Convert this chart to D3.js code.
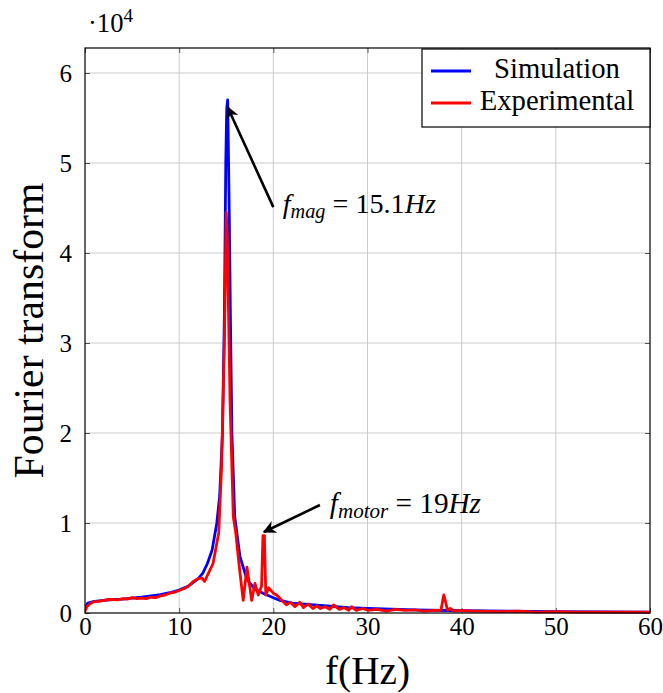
<!DOCTYPE html>
<html><head><meta charset="utf-8">
<script src="https://cdn.jsdelivr.net/npm/d3@7"></script>
<style>
body{margin:0;background:#fff}
svg text{font-family:"Liberation Serif","Times New Roman",serif !important;fill:#000}
</style>
</head><body>
<svg id="c" width="663" height="693"></svg>
<script>
// ---- data (values in units of 10^4) ----
const simFreq = [0,0.3,1,2,3,4,5,6,7,8,9,10,11,12,12.5,13,13.5,14,14.3,14.6,14.8,14.95,15.05,15.15,15.3,15.45,15.6,15.9,16.45,17.2,18,18.9,20,20.7,22,25,28,30,35,40,45,50,55,60];
const simVal  = [0.06,0.11,0.13,0.14,0.15,0.155,0.165,0.175,0.19,0.205,0.225,0.255,0.3,0.38,0.44,0.55,0.7,1.0,1.3,2.0,3.3,5.0,5.6,5.7,4.6,3.2,2.0,1.07,0.63,0.37,0.27,0.22,0.17,0.14,0.11,0.085,0.06,0.05,0.035,0.025,0.02,0.015,0.012,0.01];

const expFreq = [0,0.2,0.5,0.9,1.5,2,2.5,3,3.5,4,4.5,5,5.5,6,6.5,7,7.5,8,8.5,9,9.5,10,10.5,11,11.5,12,12.4,12.7,13.1,13.6,14.2,14.5,14.8,15.0,15.1,15.25,15.4,15.75,16.0,16.4,16.8,17.2,17.7,18.05,18.4,18.75,18.9,19.05,19.2,19.5,20,20.35,21,21.4,21.8,22.3,22.8,23.2,23.7,24.2,24.6,25,25.5,26,26.4,27,27.5,28,28.3,28.8,29.5,30,31,32,33,34,35,36,37,37.8,38.1,38.3,38.5,38.8,39.2,40,41,42,44,46,48,50,52,54,56,58,60];
const expVal  = [0.02,0.07,0.1,0.125,0.13,0.14,0.15,0.15,0.145,0.16,0.155,0.17,0.16,0.165,0.16,0.175,0.17,0.19,0.2,0.22,0.23,0.25,0.27,0.3,0.35,0.38,0.39,0.35,0.44,0.55,0.89,1.62,3.0,4.45,4.2,3.3,2.37,1.07,0.9,0.5,0.14,0.51,0.14,0.33,0.2,0.3,0.86,0.86,0.2,0.28,0.22,0.2,0.13,0.09,0.12,0.07,0.12,0.06,0.1,0.05,0.08,0.05,0.07,0.04,0.09,0.04,0.06,0.03,0.07,0.03,0.05,0.03,0.04,0.02,0.04,0.03,0.035,0.02,0.03,0.03,0.2,0.12,0.03,0.05,0.02,0.03,0.02,0.02,0.015,0.02,0.01,0.015,0.01,0.01,0.01,0.01,0.01];

const xTicks = [0,10,20,30,40,50,60];
const yTicks = [0,1,2,3,4,5,6];
const seriesNames = ["Simulation","Experimental"];
const seriesColors = ["#0000ff","#ff0000"];
// annotations: arrow tail, arrow tip, label anchor (data coords)
const annTail = [[20.0,4.51],[24.95,1.2]];
const annTip  = [[15.15,5.62],[19.0,0.9]];
const annText = [[21.0,4.44],[26.0,1.11]];
const annMain = ["f","f"];
const annSub  = ["mag","motor"];
const annRest = ["15.1","19"];
const annWidth = [154,152];

// ---- layout ----
const L=85,R=650,T=48,B=613;
const svg=d3.select("#c");
const x=d3.scaleLinear().domain([0,60]).range([L,R]);
const y=d3.scaleLinear().domain([0,(B-T)/90]).range([B,T]);

function fit(sel,w){const n=sel.node();const cur=parseFloat(sel.attr("font-size"));const bw=n.getBBox().width;sel.attr("font-size",cur*w/bw);}

// grid
svg.append("g").selectAll("line").data(xTicks.slice(1,-1)).join("line")
 .attr("x1",d=>x(d)).attr("x2",d=>x(d)).attr("y1",T).attr("y2",B)
 .attr("stroke","#cccccc").attr("stroke-width",1);
svg.append("g").selectAll("line").data(yTicks.slice(1)).join("line")
 .attr("y1",d=>y(d)).attr("y2",d=>y(d)).attr("x1",L).attr("x2",R)
 .attr("stroke","#cccccc").attr("stroke-width",1);

// axes
const ax=svg.append("g").attr("transform",`translate(0,${B})`)
 .call(d3.axisBottom(x).tickValues(xTicks).tickSize(-5).tickPadding(4).tickFormat(d3.format("d")));
const ay=svg.append("g").attr("transform",`translate(${L},0)`)
 .call(d3.axisLeft(y).tickValues(yTicks).tickSize(-5).tickPadding(13).tickFormat(d3.format("d")));
const axT=svg.append("g").attr("transform",`translate(0,${T})`)
 .call(d3.axisTop(x).tickValues(xTicks).tickSize(-5).tickFormat(""));
const ayR=svg.append("g").attr("transform",`translate(${R},0)`)
 .call(d3.axisRight(y).tickValues(yTicks).tickSize(-5).tickFormat(""));
[ax,ay,axT,ayR].forEach(g=>{g.attr("font-family",null).attr("font-size",null);
 g.select(".domain").remove();g.selectAll(".tick line").attr("stroke","#555");
 g.selectAll("text").style("font-family","'Liberation Serif',serif").attr("font-size",25).attr("fill","#000");});

// series
const line=d3.line().x(d=>x(d[0])).y(d=>y(d[1]));
svg.append("clipPath").attr("id","clp").append("rect").attr("x",L).attr("y",T).attr("width",R-L).attr("height",B-T+3);
[[simFreq,simVal],[expFreq,expVal]].forEach((s,i)=>{
 svg.append("path").datum(d3.zip(s[0],s[1])).attr("d",line)
  .attr("fill","none").attr("stroke",seriesColors[i]).attr("stroke-width",2.8)
  .attr("stroke-linejoin","round").attr("clip-path","url(#clp)");
});

// frame
svg.append("rect").attr("x",L).attr("y",T).attr("width",R-L).attr("height",B-T)
 .attr("fill","none").attr("stroke","#000").attr("stroke-width",1.2);

// arrows
svg.append("defs").append("marker").attr("id","ah").attr("viewBox","0 0 10 10")
 .attr("refX",9).attr("refY",5).attr("markerWidth",5).attr("markerHeight",5).attr("orient","auto")
 .attr("markerUnits","strokeWidth")
 .append("path").attr("d","M0,0 L10,5 L0,10 L3,5 z").attr("fill","#000");
annTail.forEach((t,i)=>{
 svg.append("line").attr("x1",x(t[0])).attr("y1",y(t[1])).attr("x2",x(annTip[i][0])).attr("y2",y(annTip[i][1]))
  .attr("stroke","#000").attr("stroke-width",2.6).attr("marker-end","url(#ah)");
 const tx=svg.append("text").attr("x",x(annText[i][0])).attr("y",y(annText[i][1])).attr("font-size",24);
 tx.append("tspan").attr("font-style","italic").text(annMain[i]);
 tx.append("tspan").attr("font-style","italic").attr("font-size","0.72em").attr("dy","0.25em").text(annSub[i]);
 tx.append("tspan").attr("dy","-0.18em").text(" = "+annRest[i]);
 tx.append("tspan").attr("font-style","italic").text("Hz");
 fit(tx,annWidth[i]);
});

// legend
const lg=svg.append("g");
lg.append("rect").attr("x",422).attr("y",49).attr("width",R-422).attr("height",78)
 .attr("fill","#fff").attr("stroke","#000").attr("stroke-width",1.2);
const lgY=[71,103], lgTW=[126,155];
seriesNames.forEach((n,i)=>{
 lg.append("line").attr("x1",431).attr("x2",471).attr("y1",lgY[i]).attr("y2",lgY[i])
  .attr("stroke",seriesColors[i]).attr("stroke-width",2.8);
 const t=lg.append("text").attr("x",557).attr("y",lgY[i]+7).attr("text-anchor","middle").attr("font-size",24).text(n);
 fit(t,lgTW[i]);
});

// axis labels
const xl=svg.append("text").attr("x",(L+R)/2).attr("y",684).attr("text-anchor","middle").attr("font-size",36).text("f(Hz)");
fit(xl,85);
const yl=svg.append("text").attr("transform",`translate(43,${(T+B)/2}) rotate(-90)`).attr("text-anchor","middle").attr("font-size",36).text("Fourier transform");
fit(yl,296);

// exponent
const ex=svg.append("text").attr("x",88).attr("y",32).attr("font-size",25);
ex.append("tspan").text("·10");
ex.append("tspan").attr("font-size","0.72em").attr("dy","-0.5em").text("4");
fit(ex,45);
</script>
</body></html>
